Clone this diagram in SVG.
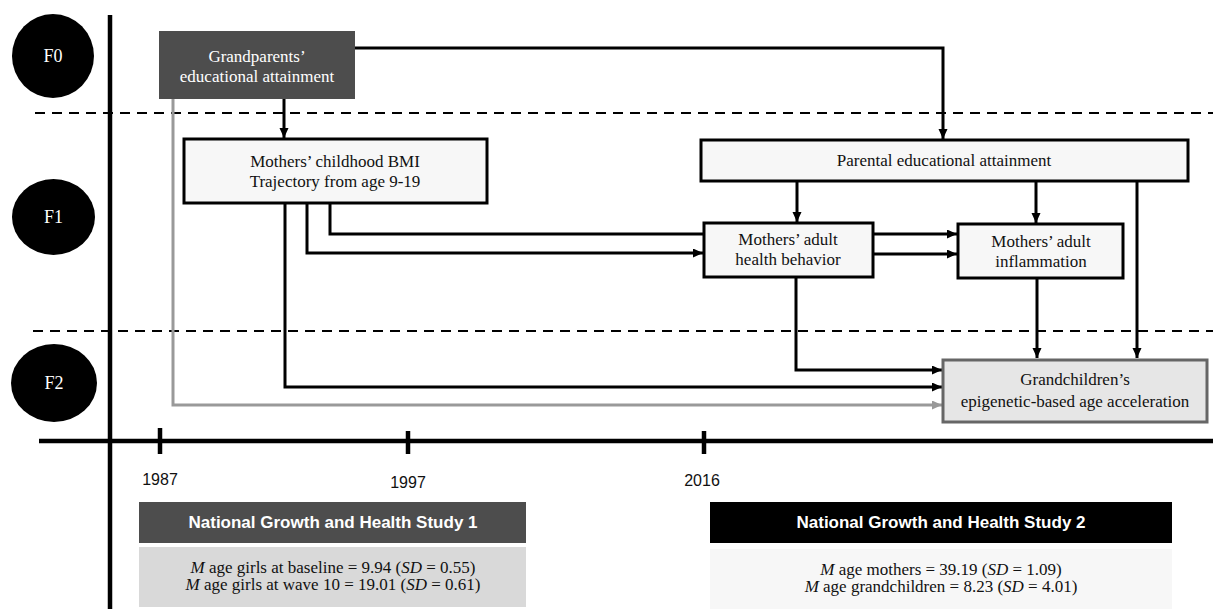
<svg xmlns="http://www.w3.org/2000/svg" width="1213" height="609" viewBox="0 0 1213 609">
<style>
.serif{font-family:"Liberation Serif","Times New Roman",serif;font-size:17px;text-anchor:middle}
.lab{font-size:18px}
.sans{font-family:"Liberation Sans",Arial,sans-serif;font-size:16px}
.w{fill:#fff}
.k{fill:#111}
.box{fill:#f7f7f7;stroke:#000;stroke-width:3}
.conn{fill:none;stroke:#000;stroke-width:3}
.gray{fill:none;stroke:#999;stroke-width:3}
.dash{stroke:#000;stroke-width:2.2;stroke-dasharray:10 7}
.axis{stroke:#000;stroke-width:4.5}
.hdr{font-family:"Liberation Sans",Arial,sans-serif;font-size:17px;font-weight:bold;fill:#fff;text-anchor:middle}
</style>
<defs>
<marker id="ah" markerUnits="userSpaceOnUse" markerWidth="11" markerHeight="10" refX="10" refY="4.5" orient="auto"><path d="M0,0 L10,4.5 L0,9 z" fill="#000"/></marker>
<marker id="ahg" markerUnits="userSpaceOnUse" markerWidth="11" markerHeight="10" refX="10" refY="4.5" orient="auto"><path d="M0,0 L10,4.5 L0,9 z" fill="#999"/></marker>
</defs>
<rect width="1213" height="609" fill="#fff"/>

<g id="axes">
<line class="dash" x1="35" y1="113" x2="1213" y2="113"/>
<line class="dash" x1="33" y1="331" x2="1213" y2="331"/>
<line class="axis" x1="110" y1="15" x2="110" y2="609"/>
<line class="axis" x1="39" y1="441" x2="1213" y2="441" stroke-width="5"/>
<line class="axis" x1="160" y1="428" x2="160" y2="454"/>
<line class="axis" x1="408" y1="431" x2="408" y2="454"/>
<line class="axis" x1="704" y1="431" x2="704" y2="454"/>
<text class="sans k" x="160" y="485" text-anchor="middle">1987</text>
<text class="sans k" x="408" y="488" text-anchor="middle">1997</text>
<text class="sans k" x="702" y="486" text-anchor="middle">2016</text>
</g>

<g id="gen-F0"><ellipse cx="53" cy="56" rx="41" ry="42" fill="#000"/><text class="serif lab w" x="53" y="62">F0</text></g>
<g id="gen-F1"><ellipse cx="53.5" cy="217" rx="41.5" ry="38" fill="#000"/><text class="serif lab w" x="53.5" y="223">F1</text></g>
<g id="gen-F2"><ellipse cx="54" cy="383" rx="43" ry="39" fill="#000"/><text class="serif lab w" x="54" y="389">F2</text></g>

<g id="connectors">
<path class="conn" d="M284,99 V138" marker-end="url(#ah)"/>
<path class="conn" d="M355,48 H943 V139" marker-end="url(#ah)"/>
<path class="gray" d="M173,99 V405 H942" marker-end="url(#ahg)"/>
<path class="conn" d="M285,203 V387 H942" marker-end="url(#ah)"/>
<path class="conn" d="M307,203 V253 H703" marker-end="url(#ah)"/>
<path class="conn" d="M330,203 V234 H703"/>
<path class="conn" d="M797,181 V222" marker-end="url(#ah)"/>
<path class="conn" d="M1036,181 V223" marker-end="url(#ah)"/>
<path class="conn" d="M1137,182 V358" marker-end="url(#ah)"/>
<path class="conn" d="M873,234 H957" marker-end="url(#ah)"/>
<path class="conn" d="M873,254 H957" marker-end="url(#ah)"/>
<path class="conn" d="M796,277 V370 H942" marker-end="url(#ah)"/>
<path class="conn" d="M1037,278 V358" marker-end="url(#ah)"/>
</g>

<g id="grandparents-edu">
<rect x="159" y="31" width="196" height="68" fill="#4d4d4d"/>
<text class="serif w" x="257" y="62">Grandparents’</text>
<text class="serif w" x="257" y="82">educational attainment</text>
</g>

<g id="mothers-bmi">
<rect class="box" x="184" y="139" width="303" height="64"/>
<text class="serif k" x="335" y="167">Mothers’ childhood BMI</text>
<text class="serif k" x="335" y="187">Trajectory from age 9-19</text>
</g>

<g id="parental-edu">
<rect class="box" x="701" y="140" width="487" height="41"/>
<text class="serif k" x="944" y="166">Parental educational attainment</text>
</g>

<g id="health-behavior">
<rect class="box" x="704" y="223" width="169" height="54"/>
<text class="serif k" x="788" y="245">Mothers’ adult</text>
<text class="serif k" x="788" y="265">health behavior</text>
</g>

<g id="inflammation">
<rect class="box" x="958" y="224" width="165" height="54"/>
<text class="serif k" x="1041" y="247">Mothers’ adult</text>
<text class="serif k" x="1041" y="267">inflammation</text>
</g>

<g id="grandchildren">
<rect x="943" y="360" width="264" height="62" fill="#e6e6e6" stroke="#666" stroke-width="3"/>
<text class="serif k" x="1075" y="385">Grandchildren’s</text>
<text class="serif k" x="1075" y="407">epigenetic-based age acceleration</text>
</g>

<g id="study1">
<rect x="139" y="502" width="387" height="41" fill="#4d4d4d"/>
<text class="hdr" x="333" y="528">National Growth and Health Study 1</text>
<rect x="139" y="547" width="387" height="60" fill="#d9d9d9"/>
<text class="serif k" x="333" y="573"><tspan font-style="italic">M</tspan> age girls at baseline = 9.94 (<tspan font-style="italic">SD</tspan> = 0.55)</text>
<text class="serif k" x="333" y="590"><tspan font-style="italic">M</tspan> age girls at wave 10 = 19.01 (<tspan font-style="italic">SD</tspan> = 0.61)</text>
</g>

<g id="study2">
<rect x="710" y="502" width="462" height="41" fill="#000"/>
<text class="hdr" x="941" y="528">National Growth and Health Study 2</text>
<rect x="710" y="549" width="462" height="60" fill="#f7f7f7"/>
<text class="serif k" x="941" y="575"><tspan font-style="italic">M</tspan> age mothers = 39.19 (<tspan font-style="italic">SD</tspan> = 1.09)</text>
<text class="serif k" x="941" y="592"><tspan font-style="italic">M</tspan> age grandchildren = 8.23 (<tspan font-style="italic">SD</tspan> = 4.01)</text>
</g>
</svg>
